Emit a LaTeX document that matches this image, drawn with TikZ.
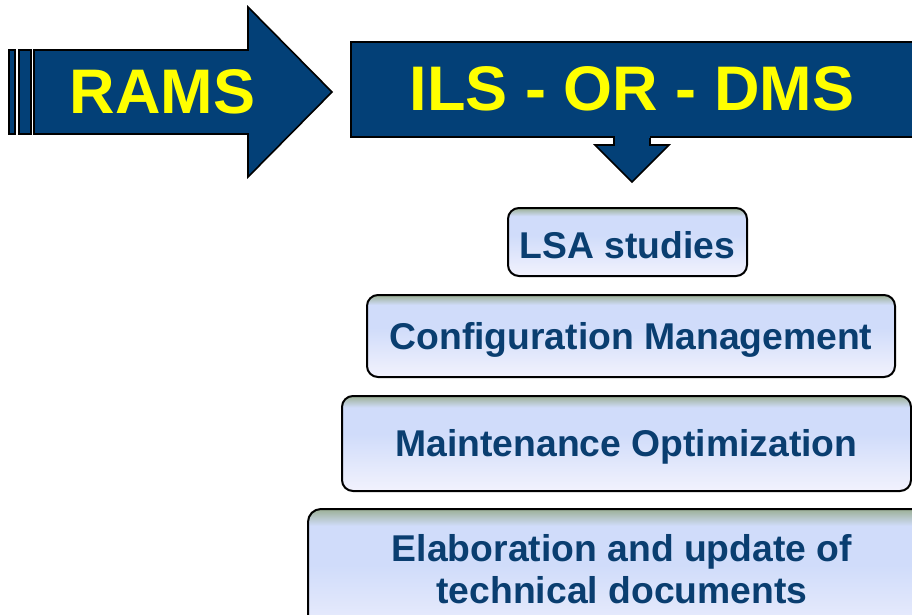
\documentclass[tikz,border=0pt]{standalone}
\usepackage{fontspec}
\setmainfont{Liberation Sans}
\definecolor{arrowblue}{RGB}{3,64,119}
\definecolor{txtblue}{RGB}{10,62,112}
\definecolor{boxtop}{RGB}{156,176,150}
\definecolor{boxmid}{RGB}{208,220,250}
\definecolor{boxbot}{RGB}{242,242,253}
\definecolor{ylw}{RGB}{255,255,0}
\pgfdeclareverticalshading{boxshade}{100bp}{color(0bp)=(boxbot); color(25bp)=(boxbot); color(55bp)=(boxmid); color(69bp)=(boxmid); color(75bp)=(boxtop); color(100bp)=(boxtop)}
\tikzset{
  blueshape/.style={fill=arrowblue, draw=black, line width=1.6pt, line join=miter},
  stepbox/.style={draw=black, line width=2pt, rounded corners=11pt, shading=boxshade, inner sep=0pt},
  boxtext/.style={text=txtblue, font=\bfseries\fontsize{37.3}{42}\selectfont, align=center, inner sep=0pt, yshift=-3.5pt},
  bigtext/.style={text=ylw, font=\bfseries\fontsize{63}{70}\selectfont, inner sep=0pt},
}
\begin{document}
\begin{tikzpicture}[x=1pt,y=-1pt]
\useasboundingbox (0,0) rectangle (912,614);
\clip (0,0) rectangle (912,614);
\fill[white] (0,0) rectangle (912,614);
% RAMS arrow
\filldraw[blueshape] (34,50) -- (248,50) -- (248,7) -- (332,92) -- (248,177) -- (248,134) -- (34,134) -- cycle;
\draw[blueshape] (9,50) rectangle (15,134);
\draw[blueshape] (19,50) rectangle (31,134);
\node[bigtext] (rams) at (162.5,92) {RAMS};
% ILS box with down arrow
\filldraw[blueshape] (614,130) -- (614,145) -- (595,145) -- (632,182) -- (669,145) -- (650,145) -- (650,130) -- cycle;
\node[blueshape, draw, minimum width=570pt, minimum height=95pt, anchor=north west, inner sep=0pt] (ils) at (350,41) {};
\filldraw[arrowblue] (615.2,134) rectangle (648.8,137.5);
\node[bigtext] (ilstext) at (632,89) {ILS - OR - DMS};
% Steps
\node[stepbox, minimum width=239pt, minimum height=68pt] (lsa) at (627.5,242) {};
\node[boxtext] (lsatext) at (lsa.center) {LSA studies};
\node[stepbox, minimum width=528pt, minimum height=82pt] (conf) at (631,336) {};
\node[boxtext] (conftext) at (conf.center) {Configuration Management};
\node[stepbox, minimum width=569pt, minimum height=95pt] (maint) at (626.5,443.5) {};
\node[boxtext] (mainttext) at (maint.center) {Maintenance Optimization};
\node[stepbox, minimum width=640pt, minimum height=140pt, anchor=north west, rounded corners=13pt] (elab) at (307,508) {};
\node[boxtext] (elabtext) at (622,566) {Elaboration and update of\\technical documents};
\end{tikzpicture}
\end{document}
